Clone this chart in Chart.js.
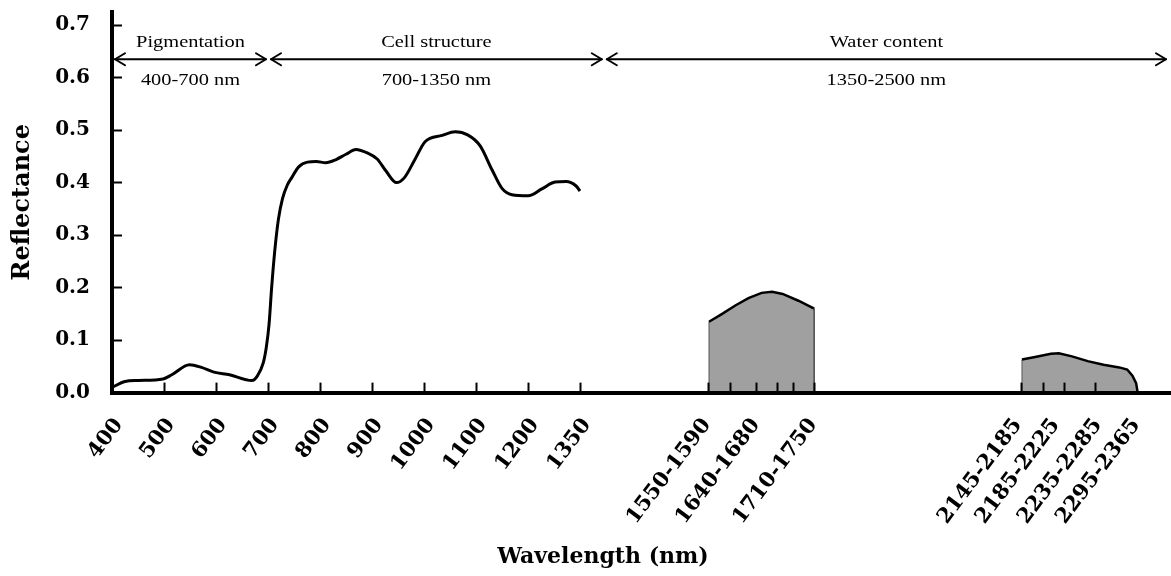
<!DOCTYPE html>
<html><head><meta charset="utf-8">
<script src="https://cdn.jsdelivr.net/npm/chart.js@4.4.0/dist/chart.umd.min.js"></script>
<style>html,body{margin:0;padding:0;background:#fff;}#wrap{width:1171px;height:576px;}</style>
</head><body><div id="wrap"><canvas id="c" width="1171" height="576"></canvas></div>
<script>
// ---------- data ----------
const vnirTickLabels = ['400','500','600','700','800','900','1000','1100','1200','1350'];
const vnirTickWavelengths = [400,500,600,700,800,900,1000,1100,1200,1350];
const spectrumWavelength = [400,425,450,498,515,549,572,596,626,669,679,691,697,702,707,713,720,728,737,746,759,776,793,811,831,850,869,892,910,927,947,962,982,1002,1035,1060,1084,1108,1131,1150,1169,1200,1240,1278,1310,1338,1350];
const spectrumReflectance = [0.010,0.021,0.023,0.026,0.034,0.053,0.048,0.039,0.034,0.023,0.031,0.057,0.088,0.13,0.20,0.27,0.33,0.37,0.395,0.41,0.43,0.439,0.44,0.438,0.444,0.454,0.463,0.456,0.445,0.422,0.400,0.409,0.443,0.478,0.490,0.497,0.491,0.470,0.424,0.389,0.377,0.375,0.388,0.401,0.402,0.394,0.384];
const swirTickMarks = [1550,1590,1640,1680,1710,1750,2145,2185,2225,2285];
const swirLabels = ['1550-1590','1640-1680','1710-1750','2145-2185','2185-2225','2235-2285','2295-2365'];
const swirLabelAt = [1533,1626,1735,2124,2196,2276,2349];
const band1Wavelength = [1550,1550,1575,1600,1625,1650,1670,1690,1720,1750,1750];
const band1Reflectance = [0,0.135,0.150,0.166,0.180,0.190,0.192,0.188,0.175,0.160,0];
const band2Wavelength = [2145,2145,2170,2200,2215,2240,2270,2300,2330,2345,2355,2362,2365];
const band2Reflectance = [0,0.063,0.068,0.074,0.075,0.069,0.060,0.053,0.048,0.044,0.032,0.018,0];
const yTicks = [0,0.1,0.2,0.3,0.4,0.5,0.6,0.7];
const regionNames = ['Pigmentation','Cell structure','Water content'];
const regionRanges = ['400-700 nm','700-1350 nm','1350-2500 nm'];
const regionBounds = [[400,700],[700,1350],[1350,2500]];

// wavelength -> position on the (equally spaced) VNIR label axis
function toIndex(w){
  const t = vnirTickWavelengths;
  for (let i = 0; i < t.length - 1; i++){
    if (w <= t[i+1]) return i + (w - t[i]) / (t[i+1] - t[i]);
  }
  const n = t.length - 1;
  return n + (w - t[n]) / (t[n] - t[n-1]);
}

const FONT_BOLD = 'DejaVu Serif';
const isVertical = c => c.p0.parsed.x === c.p1.parsed.x;

const regionPlugin = {
  id: 'regions',
  afterDraw(chart){
    const c = chart.ctx, xL = chart.scales.xL, xR = chart.scales.xR, y = chart.scales.y, area = chart.chartArea;
    const px = w => w < 1350 ? xL.getPixelForValue(toIndex(w)) : Math.min(xR.getPixelForValue(w), area.right - 2);
    const yName = y.getPixelForValue(0.667), yArrow = y.getPixelForValue(0.635), yRange = y.getPixelForValue(0.595);
    c.save();
    c.strokeStyle = '#000'; c.fillStyle = '#000'; c.lineWidth = 2; c.lineCap = 'round'; c.lineJoin = 'round';
    regionBounds.forEach((b, i) => {
      const x1 = px(b[0]) + 3, x2 = px(b[1]) - 2;
      c.beginPath(); c.moveTo(x1, yArrow); c.lineTo(x2, yArrow); c.stroke();
      c.beginPath(); c.moveTo(x1 + 10, yArrow - 6); c.lineTo(x1, yArrow); c.lineTo(x1 + 10, yArrow + 6); c.stroke();
      c.beginPath(); c.moveTo(x2 - 10, yArrow - 6); c.lineTo(x2, yArrow); c.lineTo(x2 - 10, yArrow + 6); c.stroke();
      const cx = (x1 + x2) / 2;
      c.font = '17px "Liberation Serif"'; c.textAlign = 'center'; c.textBaseline = 'middle';
      [[regionNames[i], yName], [regionRanges[i], yRange]].forEach(([t, ty]) => {
        c.save(); c.translate(cx, ty); c.scale(1.2, 1); c.fillText(t, 0, 0); c.restore();
      });
    });
    c.restore();
  }
};

const PAD_LEFT = 36, AXIS_LEFT = 112, AXIS_RIGHT = 1170;
const LEFT_W = 480, RIGHT_W = AXIS_RIGHT - AXIS_LEFT - LEFT_W, PX_PER_SLOT = 52, PX_PER_NM = 0.526;
const xRMin = 1550 - (709 - (AXIS_LEFT + LEFT_W)) / PX_PER_NM;
const Y_TITLE_SIZE = 24;

const xTickFont = { family: FONT_BOLD, size: 21, weight: 'bold' };
function fitX(s){ s.height = 145; s.paddingLeft = 0; s.paddingRight = 0; }

new Chart(document.getElementById('c'), {
  type: 'line',
  data: { datasets: [
    { xAxisID: 'xL', yAxisID: 'y',
      data: spectrumWavelength.map((w, i) => ({x: toIndex(w), y: spectrumReflectance[i]})),
      borderColor: '#000', borderWidth: 3, pointRadius: 0, cubicInterpolationMode: 'monotone', fill: false },
    { xAxisID: 'xR', yAxisID: 'y',
      data: band1Wavelength.map((w, i) => ({x: w, y: band1Reflectance[i]})),
      borderColor: '#000', borderWidth: 2.5, backgroundColor: '#a0a0a0', fill: 'origin', pointRadius: 0, tension: 0,
      segment: { borderWidth: c => isVertical(c) ? 1 : 2.5, borderColor: c => isVertical(c) ? '#555' : '#000' } },
    { xAxisID: 'xR', yAxisID: 'y',
      data: band2Wavelength.map((w, i) => ({x: w, y: band2Reflectance[i]})),
      borderColor: '#000', borderWidth: 2.5, backgroundColor: '#a0a0a0', fill: 'origin', pointRadius: 0, tension: 0,
      segment: { borderWidth: c => isVertical(c) ? 1 : 2.5, borderColor: c => isVertical(c) ? '#555' : '#000' } }
  ]},
  options: {
    responsive: false, animation: false,
    layout: { padding: { top: 12, right: 1171 - AXIS_RIGHT, left: PAD_LEFT, bottom: 0 } },
    plugins: {
      legend: { display: false }, tooltip: { enabled: false },
      title: { display: true, position: 'bottom', text: 'Wavelength (nm)', color: '#000',
               font: { family: FONT_BOLD, size: 22, weight: 'bold' }, padding: { top: 6, bottom: 6 } }
    },
    scales: {
      xL: {
        type: 'linear', position: 'bottom', stack: 'wl', stackWeight: LEFT_W, z: 1,
        min: 0, max: LEFT_W / PX_PER_SLOT,
        afterBuildTicks: s => { s.ticks = vnirTickLabels.map((_, i) => ({ value: i })); },
        afterFit: fitX,
        ticks: { autoSkip: false, minRotation: 53, maxRotation: 53, padding: 31, labelOffset: 7, color: '#000',
                 font: xTickFont, callback: v => vnirTickLabels[Math.round(v)] },
        grid: { drawOnChartArea: false, tickLength: -10, tickWidth: 2, tickColor: '#000', z: 1 },
        border: { display: true, width: 4, color: '#000', z: 1 }
      },
      xR: {
        type: 'linear', position: 'bottom', stack: 'wl', stackWeight: RIGHT_W, z: 1,
        min: xRMin, max: xRMin + RIGHT_W / PX_PER_NM,
        afterBuildTicks: s => {
          const t = swirTickMarks.map(v => ({ value: v, mark: true }))
            .concat(swirLabelAt.map((v, i) => ({ value: v, text: swirLabels[i] })));
          t.sort((a, b) => a.value - b.value);
          s.ticks = t;
        },
        afterFit: fitX,
        ticks: { autoSkip: false, minRotation: 53, maxRotation: 53, padding: 31, labelOffset: 7, color: '#000',
                 font: xTickFont, callback: (v, i, ticks) => ticks[i].text || '' },
        grid: { drawOnChartArea: false, tickLength: -10, tickWidth: 2, z: 1,
                tickColor: c => (c.tick && c.tick.mark) ? '#000' : 'rgba(0,0,0,0)' },
        border: { display: true, width: 4, color: '#000', z: 1 }
      },
      y: {
        type: 'linear', position: 'left', min: 0, max: 0.725,
        afterBuildTicks: s => { s.ticks = yTicks.map(v => ({ value: v })); },
        afterFit: s => { s.width = AXIS_LEFT - PAD_LEFT; s.paddingTop = 0; s.paddingBottom = 0; },
        ticks: { padding: 32, color: '#000', font: { family: FONT_BOLD, size: 20, weight: 'bold' },
                 callback: v => Number(v).toFixed(1) },
        grid: { drawOnChartArea: false, tickLength: -10, tickWidth: 2, tickColor: '#000' },
        border: { display: true, width: 4, color: '#000' },
        title: { display: true, text: 'Reflectance', color: '#000',
                 font: { family: FONT_BOLD, size: Y_TITLE_SIZE, weight: 'bold' },
                 padding: { top: 23 - PAD_LEFT - Y_TITLE_SIZE * 0.6, bottom: 4 } }
      }
    }
  },
  plugins: [regionPlugin]
});
</script>
</body></html>
